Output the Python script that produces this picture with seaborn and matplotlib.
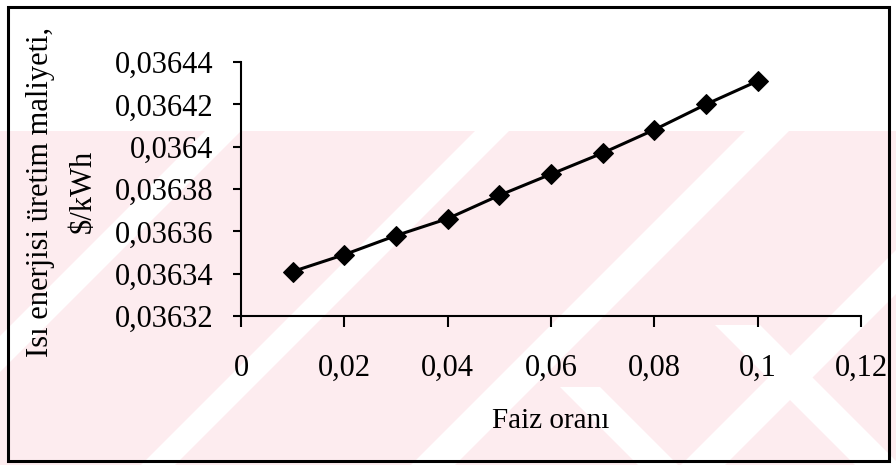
import matplotlib
matplotlib.use("Agg")
import matplotlib.pyplot as plt
from matplotlib.patches import Polygon, Rectangle
from matplotlib.ticker import FuncFormatter, FixedLocator
import seaborn as sns
import pandas as pd

# Interest rate vs. heat energy production cost
faiz_orani = [0.01, 0.02, 0.03, 0.04, 0.05, 0.06, 0.07, 0.08, 0.09, 0.10]
maliyet = [0.036341, 0.036349, 0.036358, 0.036366, 0.036377,
           0.036387, 0.036397, 0.036408, 0.036420, 0.036431]
x_ticks = [0, 0.02, 0.04, 0.06, 0.08, 0.10, 0.12]
y_ticks = [0.03632, 0.03634, 0.03636, 0.03638, 0.03640, 0.03642, 0.03644]

df = pd.DataFrame({"faiz": faiz_orani, "maliyet": maliyet})

sns.set_theme(style="ticks")
plt.rcParams["font.family"] = ["Liberation Serif", "DejaVu Serif"]

W, H = 896, 465
fig = plt.figure(figsize=(W / 100, H / 100), dpi=100)
fig.patch.set_facecolor("white")


def fx(x, y):
    return (x / W, 1 - y / H)


def add_poly(pts, color, z):
    fig.add_artist(Polygon([fx(*p) for p in pts], closed=True,
                           transform=fig.transFigure, facecolor=color,
                           edgecolor="none", zorder=z))


# light background watermark bands
pink = "#fdecef"
add_poly([(0, 131), (W, 131), (W, H), (0, H)], pink, -2)
for c1, c2 in [(66, 100), (336, 372), (606, 640), (876, 920), (1146, 1190)]:
    add_poly([(c1 - 131, 131), (c2 - 131, 131), (c2 - H, H), (c1 - H, H)],
             "white", -1)
# chevron gaps
add_poly([(715, 325), (760, 325), (900, 465), (855, 465)], "white", -1)
add_poly([(560, 387), (600, 387), (678, 465), (638, 465)], "white", -1)

ax = fig.add_axes([241 / W, 149 / H, 620 / W, 254 / H])
ax.set_facecolor("none")

sns.lineplot(data=df, x="faiz", y="maliyet", ax=ax, color="black",
             linewidth=2.2, marker="D", markersize=10,
             markerfacecolor="black", markeredgecolor="black")

ax.set_xlim(0, 0.12)
ax.set_ylim(0.03632, 0.03644)
ax.xaxis.set_major_locator(FixedLocator(x_ticks))
ax.yaxis.set_major_locator(FixedLocator(y_ticks))


def comma_fmt(v, pos=None):
    s = f"{v:.5f}".rstrip("0").rstrip(".")
    return s.replace(".", ",")


ax.xaxis.set_major_formatter(FuncFormatter(comma_fmt))
ax.yaxis.set_major_formatter(FuncFormatter(comma_fmt))

for side in ["top", "right"]:
    ax.spines[side].set_visible(False)
for side in ["left", "bottom"]:
    ax.spines[side].set_linewidth(1.5)
    ax.spines[side].set_color("black")

ax.tick_params(axis="y", left=True, direction="out", length=6, width=1.5,
               pad=14, labelsize=22, colors="black")
ax.tick_params(axis="x", bottom=True, direction="out", length=8, width=1.5,
               pad=19, labelsize=22, colors="black")

ax.set_xlabel("Faiz oranı", fontsize=21, color="black")
ax.xaxis.set_label_coords(0.5, (316 - 408) / 254)
ax.set_ylabel("Isı enerjisi üretim maliyeti,\n\\$/kWh", fontsize=22,
              color="black", linespacing=1.6, va="center")
ax.yaxis.set_label_coords((62 - 241) / 620, 0.49)

# outer frame
fig.add_artist(Rectangle((8 / W, 4 / H), 881 / W, 454 / H,
                         transform=fig.transFigure, fill=False,
                         linewidth=2.2, edgecolor="black", zorder=5))

fig.savefig("out.png", dpi=100)
